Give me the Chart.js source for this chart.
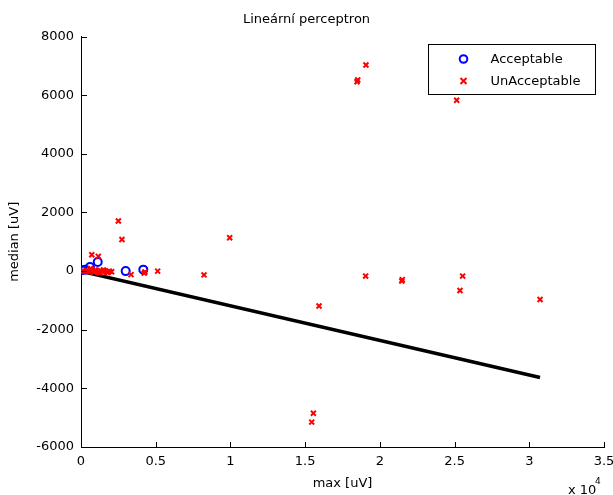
<!DOCTYPE html>
<html>
<head>
<meta charset="utf-8">
<script src="https://cdn.jsdelivr.net/npm/chart.js@4.4.1/dist/chart.umd.min.js"></script>
<style>
  body { margin: 0; background: #fff; }
  canvas { display: block; }
</style>
</head>
<body>
<canvas id="canvas" width="613" height="495"></canvas>
<script>
const titleText = 'Lineární perceptron';
const xTitle = 'max [uV]';
const yTitle = 'median [uV]';
const seriesNames = ['Acceptable', 'UnAcceptable'];

const acceptX = [50, 270, 600, 1120, 2990, 4170];
const acceptY = [30, 50, 140, 310, 0, 50];

const unaccX = [100, 250, 400, 550, 700, 850, 1000, 1150, 1300, 1450, 1600, 1750, 1900, 2050,
    650, 950, 1250, 1500, 1800,
    720, 1160, 3350, 4280, 4230, 5130, 2500, 2740, 9950, 8230, 15930, 19050, 21500, 21470,
    25540, 25360, 30720, 15550, 15440, 18520, 18470, 19070, 25140];
const unaccY = [10, -10, 20, -20, 30, -30, 0, -40, 20, -20, 10, -30, 0, -20,
    90, 40, -60, 40, -50,
    560, 505, -120, -30, -70, 0, 1710, 1080, 1140, -130, -1190, -170, -290, -340,
    -170, -660, -970, -4850, -5150, 6520, 6460, 7030, 5830];

const lineX = [0, 30720];
const lineY = [0, -3630];

const xTicks = [0, 5000, 10000, 15000, 20000, 25000, 30000, 35000];
const yTicks = [-6000, -4000, -2000, 0, 2000, 4000, 6000, 8000];

const toPoints = (xs, ys) => xs.map((x, i) => ({x: x, y: ys[i]}));

const FONT = 'DejaVu Sans';

// MATLAB style ticks pointing into the plot, plus legend box and the x 10^4 exponent
const matlabBits = {
    id: 'matlabBits',
    afterDraw(chart) {
        const ctx = chart.ctx;
        const area = chart.chartArea;
        const xs = chart.scales.x;
        const ys = chart.scales.y;
        ctx.save();
        ctx.strokeStyle = '#000';
        ctx.lineWidth = 1;
        ctx.beginPath();
        xTicks.forEach(v => {
            const px = Math.round(xs.getPixelForValue(v)) + 0.5;
            ctx.moveTo(px, Math.round(area.bottom) + 0.5);
            ctx.lineTo(px, Math.round(area.bottom) - 5);
        });
        yTicks.forEach(v => {
            const py = Math.round(ys.getPixelForValue(v)) + 0.5;
            ctx.moveTo(Math.round(area.left) + 0.5, py);
            ctx.lineTo(Math.round(area.left) + 6, py);
        });
        ctx.stroke();

        // legend
        const lx = Math.round(area.right) - 175.5;
        const ly = Math.round(area.top) + 7.5;
        ctx.fillStyle = '#fff';
        ctx.fillRect(lx, ly, 167, 50);
        ctx.strokeRect(lx, ly, 167, 50);
        ctx.strokeStyle = '#0000ff';
        ctx.lineWidth = 2;
        ctx.beginPath();
        ctx.arc(lx + 35, ly + 14.5, 3.8, 0, Math.PI * 2);
        ctx.stroke();
        ctx.strokeStyle = '#ff0000';
        ctx.beginPath();
        ctx.moveTo(lx + 32, ly + 33.5);
        ctx.lineTo(lx + 38, ly + 39.5);
        ctx.moveTo(lx + 38, ly + 33.5);
        ctx.lineTo(lx + 32, ly + 39.5);
        ctx.stroke();
        ctx.fillStyle = '#000';
        ctx.font = '13px "' + FONT + '"';
        ctx.textBaseline = 'middle';
        ctx.textAlign = 'left';
        ctx.fillText(seriesNames[0], lx + 62, ly + 15);
        ctx.fillText(seriesNames[1], lx + 62, ly + 37.5);

        // exponent label
        ctx.textBaseline = 'alphabetic';
        ctx.fillText('x 10', area.right - 36, 494);
        ctx.font = '9px "' + FONT + '"';
        ctx.fillText('4', area.right - 9, 484);
        ctx.restore();
    }
};

const chart = new Chart(document.getElementById('canvas'), {
    type: 'scatter',
    data: {
        datasets: [{
            label: seriesNames[1],
            data: toPoints(unaccX, unaccY),
            pointStyle: 'crossRot',
            pointRadius: 3.5,
            pointBorderWidth: 2,
            borderColor: '#ff0000',
            backgroundColor: '#ff0000',
            order: 0
        }, {
            label: seriesNames[0],
            data: toPoints(acceptX, acceptY),
            pointStyle: 'circle',
            pointRadius: 4,
            pointBorderWidth: 2,
            borderColor: '#0000ff',
            backgroundColor: 'rgba(0,0,0,0)',
            order: 1
        }, {
            label: 'boundary',
            data: toPoints(lineX, lineY),
            showLine: true,
            borderColor: '#000',
            borderWidth: 3.5,
            pointRadius: 0,
            order: 2
        }]
    },
    options: {
        responsive: false,
        animation: false,
        layout: {padding: {left: 0, right: 0, top: 0, bottom: 0}},
        plugins: {
            legend: {display: false},
            tooltip: {enabled: false},
            title: {
                display: true,
                text: titleText,
                color: '#000',
                font: {family: FONT, size: 13, weight: 'normal'},
                padding: {top: 12, bottom: 9}
            }
        },
        scales: {
            x: {
                type: 'linear',
                min: 0,
                max: 35000,
                afterBuildTicks: (scale) => { scale.ticks = xTicks.map(v => ({value: v})); },
                afterFit: (scale) => { scale.height = 48; scale.paddingRight = 9; },
                ticks: {
                    color: '#000',
                    font: {family: FONT, size: 13},
                    padding: 7,
                    maxRotation: 0,
                    callback: (v) => String(v / 10000)
                },
                grid: {drawOnChartArea: false, drawTicks: false},
                border: {display: true, color: '#000', width: 1},
                title: {
                    display: true,
                    text: xTitle,
                    color: '#000',
                    font: {family: FONT, size: 13},
                    padding: {top: 0, bottom: 4}
                }
            },
            y: {
                type: 'linear',
                min: -6000,
                max: 8000,
                afterBuildTicks: (scale) => { scale.ticks = yTicks.map(v => ({value: v})); },
                afterFit: (scale) => { scale.width = 81; },
                ticks: {
                    color: '#000',
                    font: {family: FONT, size: 13},
                    padding: 7,
                    callback: (v) => String(v)
                },
                grid: {drawOnChartArea: false, drawTicks: false},
                border: {display: true, color: '#000', width: 1},
                title: {
                    display: true,
                    text: yTitle,
                    color: '#000',
                    font: {family: FONT, size: 13},
                    padding: {top: 7, bottom: 0}
                }
            }
        }
    },
    plugins: [matlabBits]
});
</script>
</body>
</html>
